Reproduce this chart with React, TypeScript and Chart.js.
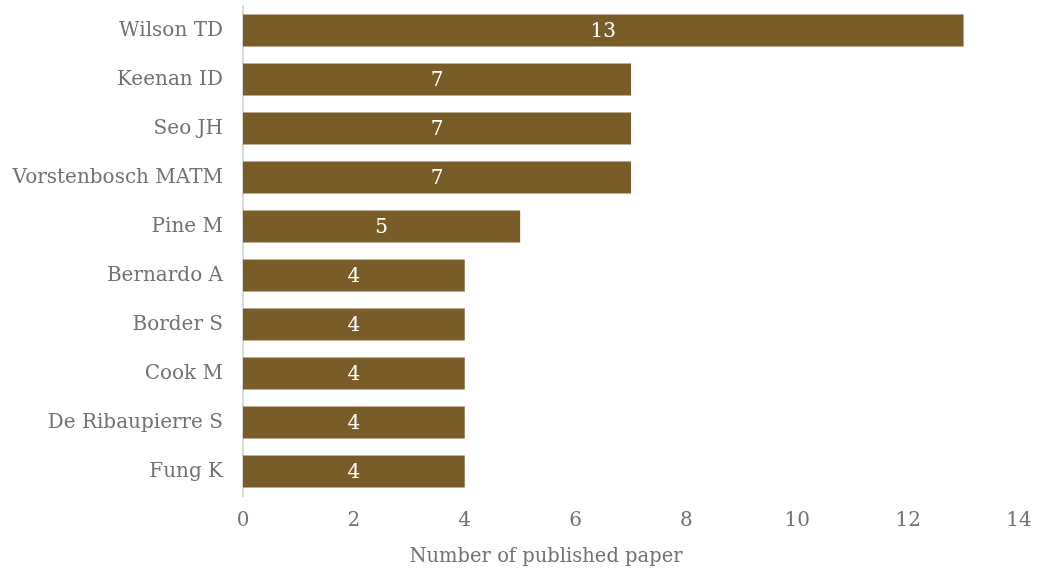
import React, { useEffect, useRef } from "react";
import { Chart, registerables } from "chart.js";

Chart.register(...registerables);

const authors = [
  "Wilson TD",
  "Keenan ID",
  "Seo JH",
  "Vorstenbosch MATM",
  "Pine M",
  "Bernardo A",
  "Border S",
  "Cook M",
  "De Ribaupierre S",
  "Fung K",
];
const papers = [13, 7, 7, 7, 5, 4, 4, 4, 4, 4];
const xTicks = [0, 2, 4, 6, 8, 10, 12, 14];
const xTitle = "Number of published paper";

const FONT = "'DejaVu Serif', serif";
const BAR = "#7a5c28";
const GRAY = "#727272";

const valueLabels = {
  id: "valueLabels",
  afterDatasetsDraw(chart: any) {
    const ctx = chart.ctx;
    const meta = chart.getDatasetMeta(0);
    const ds = chart.data.datasets[0];
    ctx.save();
    ctx.fillStyle = "#ffffff";
    ctx.font = `20px ${FONT}`;
    ctx.textAlign = "center";
    ctx.textBaseline = "middle";
    meta.data.forEach((bar: any, i: number) => {
      const cx = (bar.x + bar.base) / 2;
      ctx.fillText(String(ds.data[i]), cx, bar.y + 1);
    });
    ctx.restore();
  },
};

const axisTitle = {
  id: "axisTitle",
  afterDraw(chart: any) {
    const ctx = chart.ctx;
    ctx.save();
    ctx.fillStyle = GRAY;
    ctx.font = `19.5px ${FONT}`;
    ctx.textAlign = "center";
    ctx.textBaseline = "middle";
    ctx.fillText(xTitle, 546, 557);
    ctx.restore();
  },
};

export default function App() {
  const ref = useRef<HTMLCanvasElement>(null);
  useEffect(() => {
    const chart = new Chart(ref.current!, {
      type: "bar",
      data: {
        labels: authors,
        datasets: [
          {
            data: papers,
            backgroundColor: BAR,
            borderWidth: 0,
            categoryPercentage: 1,
            barPercentage: 0.655,
          },
        ],
      },
      options: {
        indexAxis: "y",
        animation: false,
        responsive: false,
        maintainAspectRatio: false,
        layout: { padding: { top: 6, right: 23, left: 0, bottom: 27 } },
        plugins: {
          legend: { display: false },
          tooltip: { enabled: false },
        },
        scales: {
          x: {
            min: 0,
            max: 14,
            afterBuildTicks: (axis: any) => {
              axis.ticks = xTicks.map((v) => ({ value: v }));
            },
            afterFit: (axis: any) => {
              axis.paddingLeft = 0;
              axis.paddingRight = 0;
            },
            grid: { display: false, drawTicks: false },
            border: { display: false },
            ticks: {
              color: GRAY,
              font: { family: FONT, size: 20 },
              padding: 13,
            },
          },
          y: {
            afterFit: (axis: any) => {
              axis.paddingTop = 0;
              axis.paddingBottom = 0;
              axis.width = 243;
            },
            grid: { display: false, drawTicks: false },
            border: { display: true, color: "#d9d9d9", width: 2 },
            ticks: {
              color: GRAY,
              font: { family: FONT, size: 20 },
              padding: 20,
            },
          },
        },
      },
      plugins: [valueLabels, axisTitle],
    });
    return () => chart.destroy();
  }, []);
  return (
    <div style={{ position: "fixed", left: 0, top: 0 }}>
      <canvas ref={ref} width={1042} height={573} style={{ display: "block" }} />
    </div>
  );
}
